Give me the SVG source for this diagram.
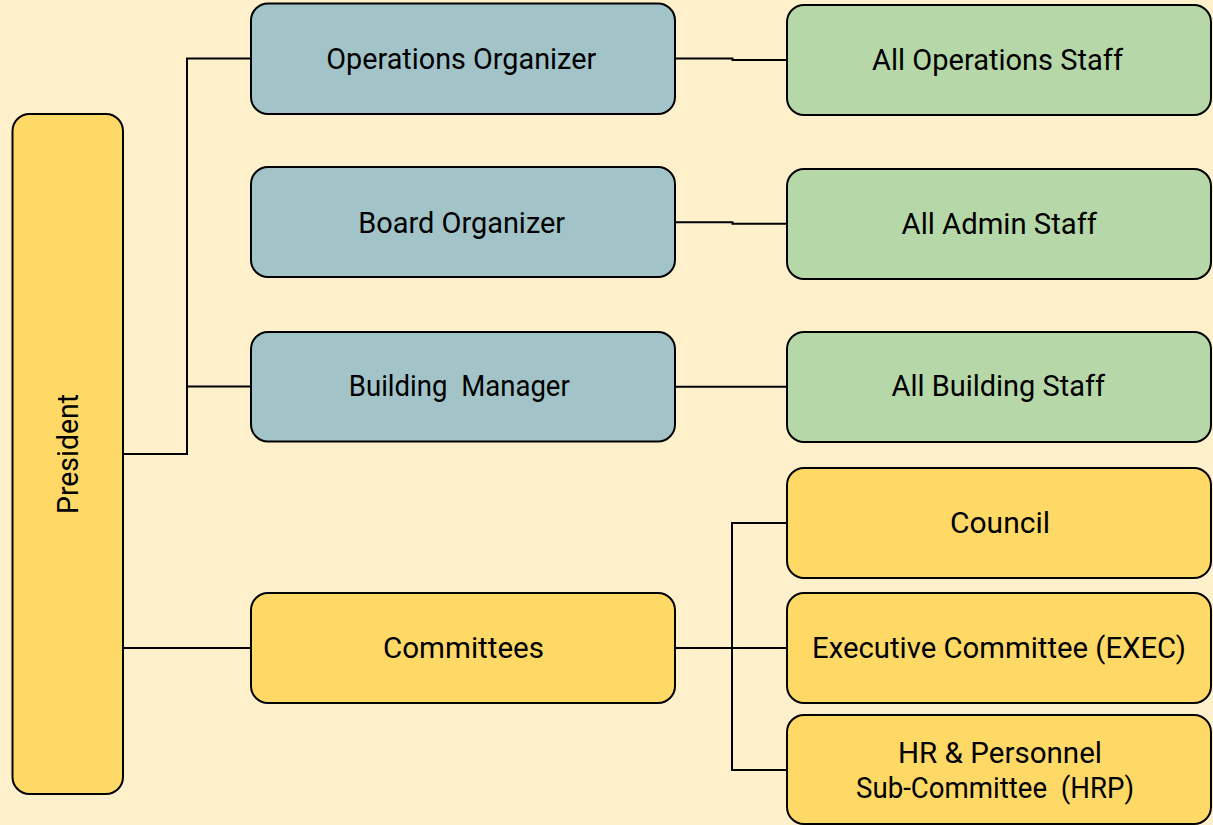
<svg xmlns="http://www.w3.org/2000/svg" width="1213" height="825" viewBox="0 0 1213 825">
<style>
.node{stroke:#000;stroke-width:2}
.blue{fill:#A2C4C9}
.green{fill:#B6D7A8}
.yellow{fill:#FFD966}
.lbl{font-family:Roboto,"Liberation Sans",sans-serif;font-size:29px;fill:#000;text-anchor:middle;white-space:pre}
.conn{fill:none;stroke:#000;stroke-width:2}
</style>
<rect x="0" y="0" width="1213" height="825" fill="#FFF0CC"/>
<g id="connectors">
<path class="conn" d="M123,454 H187 V58.5 H251"/>
<path class="conn" d="M187,386.5 H251"/>
<path class="conn" d="M123,648 H251"/>
<path class="conn" d="M675,58.5 H732.5 V60 H787"/>
<path class="conn" d="M675,222.3 H732.5 V223.7 H787"/>
<path class="conn" d="M675,386.7 H787"/>
<path class="conn" d="M675,648 H732"/>
<path class="conn" d="M787,523 H732 V770 H787"/>
<path class="conn" d="M732,648 H787"/>
</g>
<g id="president">
<rect class="node yellow" x="12.5" y="114" width="110.5" height="680" rx="17"/>
<text class="lbl" transform="translate(67.75,454) rotate(-90)" x="0" y="10" textLength="120" lengthAdjust="spacingAndGlyphs">President</text>
</g>
<g id="operations-organizer">
<rect class="node blue" x="251" y="3.5" width="424" height="110.5" rx="17"/>
<text class="lbl" x="461.2" y="68.5" textLength="270" lengthAdjust="spacingAndGlyphs">Operations Organizer</text>
</g>
<g id="board-organizer">
<rect class="node blue" x="251" y="167" width="424" height="110" rx="17"/>
<text class="lbl" x="461.7" y="232.7" textLength="207" lengthAdjust="spacingAndGlyphs">Board Organizer</text>
</g>
<g id="building-manager">
<rect class="node blue" x="251" y="332" width="424" height="109.5" rx="17"/>
<text class="lbl" x="459.3" y="395.5" textLength="221" lengthAdjust="spacingAndGlyphs">Building  Manager</text>
</g>
<g id="committees">
<rect class="node yellow" x="251" y="593" width="424" height="110" rx="17"/>
<text class="lbl" x="463.5" y="658" textLength="161" lengthAdjust="spacingAndGlyphs">Committees</text>
</g>
<g id="all-operations-staff">
<rect class="node green" x="787" y="5" width="424" height="110" rx="17"/>
<text class="lbl" x="997.5" y="70" textLength="251" lengthAdjust="spacingAndGlyphs">All Operations Staff</text>
</g>
<g id="all-admin-staff">
<rect class="node green" x="787" y="169" width="424" height="110" rx="17"/>
<text class="lbl" x="999.3" y="234.3" textLength="195.5" lengthAdjust="spacingAndGlyphs">All Admin Staff</text>
</g>
<g id="all-building-staff">
<rect class="node green" x="787" y="332" width="424" height="110" rx="17"/>
<text class="lbl" x="998.3" y="396.3" textLength="213.5" lengthAdjust="spacingAndGlyphs">All Building Staff</text>
</g>
<g id="council">
<rect class="node yellow" x="787" y="468" width="424" height="110" rx="17"/>
<text class="lbl" x="1000" y="533" textLength="100" lengthAdjust="spacingAndGlyphs">Council</text>
</g>
<g id="exec">
<rect class="node yellow" x="787" y="593" width="424" height="110" rx="17"/>
<text class="lbl" x="999" y="658" textLength="374" lengthAdjust="spacingAndGlyphs">Executive Committee (EXEC)</text>
</g>
<g id="hrp">
<rect class="node yellow" x="787" y="715" width="424" height="109" rx="17"/>
<text class="lbl" x="1000" y="763.3" textLength="204" lengthAdjust="spacingAndGlyphs">HR &amp; Personnel</text>
<text class="lbl" x="995" y="798.3" textLength="278" lengthAdjust="spacingAndGlyphs">Sub-Committee  (HRP)</text>
</g>
</svg>
